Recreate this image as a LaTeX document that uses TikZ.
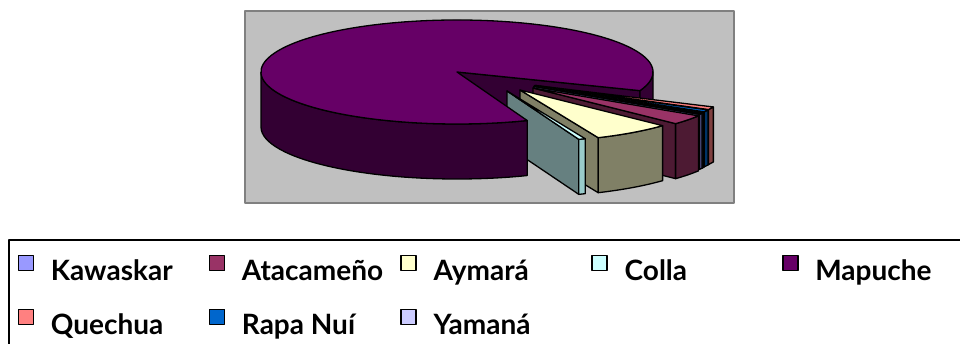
\documentclass[tikz,border=0pt]{standalone}
\usepackage{fontspec}
\setmainfont{Lato}
\usepackage{xcolor}
\usepackage{tikz}
\usetikzlibrary{positioning}

\definecolor{plotgrey}{HTML}{C0C0C0}
\definecolor{plotframe}{HTML}{808080}
\definecolor{mapuchetop}{HTML}{660066}
\definecolor{mapucheside}{HTML}{330033}
\definecolor{aymaratop}{HTML}{FFFFCC}
\definecolor{aymaraside}{HTML}{808066}
\definecolor{collatop}{HTML}{CCFFFF}
\definecolor{collaface}{HTML}{668080}
\definecolor{collaside}{HTML}{99CCCC}
\definecolor{atacamenotop}{HTML}{993366}
\definecolor{atacamenoside}{HTML}{4D1A33}
\definecolor{kawaskartop}{HTML}{9999FF}
\definecolor{kawaskarside}{HTML}{4D4D80}
\definecolor{yamanatop}{HTML}{CCCCFF}
\definecolor{yamanaside}{HTML}{666680}
\definecolor{rapanuitop}{HTML}{0066CC}
\definecolor{rapanuiside}{HTML}{003366}
\definecolor{quechuatop}{HTML}{FF8080}
\definecolor{quechuaside}{HTML}{804040}

% one pulled-out slice: apex x, apex y, start, end, top, cut face, side
\newcommand{\pieslice}[7]{%
    \begin{scope}[shift={(#1,#2)}]
        \filldraw[fill=#6] (0,0) -- (#3:196pt and 52pt) -- ++(0,-55) -- (0,-55) -- cycle;
        \filldraw[fill=#7] (#3:196pt and 52pt)
            arc[start angle=#3, end angle=#4, x radius=196pt, y radius=52pt]
            -- ++(0,-55)
            arc[start angle=#4, end angle=#3, x radius=196pt, y radius=52pt] -- cycle;
        \filldraw[fill=#5] (0,0) -- (#3:196pt and 52pt)
            arc[start angle=#3, end angle=#4, x radius=196pt, y radius=52pt] -- cycle;
    \end{scope}}

\begin{document}
\begin{tikzpicture}[x=1pt, y=1pt, line width=1.3pt, line join=round]
    \tikzstyle{swatch} = [draw=black, line width=1.6pt, minimum size=15pt, inner sep=0pt];
    \tikzstyle{entry} = [inner sep=0pt, font=\fontsize{28}{32}\selectfont\bfseries];
    \clip (0,0) rectangle (960,343);
    \draw[fill=plotgrey, draw=plotframe, line width=2pt] (245,140.3) rectangle (734.3,332.3);

    % Mapuche, the parts behind the pulled-out slices
    \begin{scope}[shift={(457,271)}]
        \filldraw[fill=mapucheside] (0,0) -- (-21:196pt and 52pt) -- ++(0,-55) -- (0,-55) -- cycle;
        \filldraw[fill=mapucheside] (-21:196pt and 52pt)
            arc[start angle=-21, end angle=0, x radius=196pt, y radius=52pt]
            -- ++(0,-55)
            arc[start angle=0, end angle=-21, x radius=196pt, y radius=52pt] -- cycle;
    \end{scope}

    % pulled-out slices, back to front
    \pieslice{535}{257.6}{-27.7}{-24.5}{quechuatop}{quechuaside}{quechuaside}
    \pieslice{534.6}{257.2}{-30.1}{-27.7}{rapanuitop}{rapanuiside}{rapanuiside}
    \pieslice{534.3}{256.8}{-31.0}{-30.1}{yamanatop}{yamanaside}{yamanaside}
    \pieslice{534}{256.5}{-32.4}{-31.0}{kawaskartop}{kawaskarside}{kawaskarside}
    \pieslice{533}{255}{-43.3}{-32.4}{atacamenotop}{atacamenoside}{atacamenoside}
    \pieslice{520}{253}{-66.5}{-43.3}{aymaratop}{aymaraside}{aymaraside}
    \pieslice{507}{252}{-68.5}{-66.5}{collatop}{collaface}{collaside}

    % Mapuche, front side and top
    \begin{scope}[shift={(457,271)}]
        \filldraw[fill=mapucheside] (180:196pt and 52pt)
            arc[start angle=180, end angle=291, x radius=196pt, y radius=52pt]
            -- ++(0,-55)
            arc[start angle=291, end angle=180, x radius=196pt, y radius=52pt] -- cycle;
        \filldraw[fill=mapuchetop] (0,0) -- (-21:196pt and 52pt)
            arc[start angle=-21, end angle=291, x radius=196pt, y radius=52pt] -- cycle;
    \end{scope}

    % legend
    \draw[line width=1.5pt] (9,103) rectangle (980,-20);
    \node[swatch, fill=kawaskartop] (mKawaskar) at (26,80) {};
    \node[swatch, fill=atacamenotop] (mAtacameno) at (217,80) {};
    \node[swatch, fill=aymaratop] (mAymara) at (408.7,80) {};
    \node[swatch, fill=collatop] (mColla) at (599.7,80) {};
    \node[swatch, fill=mapuchetop] (mMapuche) at (790.3,80) {};
    \node[swatch, fill=quechuatop] (mQuechua) at (26,26.2) {};
    \node[swatch, fill=rapanuitop] (mRapanui) at (217,26.2) {};
    \node[swatch, fill=yamanatop] (mYamana) at (408.7,26.2) {};
    \node[entry, below right = 9pt and 16pt of mKawaskar.south east, anchor=base west] (tKawaskar) {Kawaskar};
    \node[entry, below right = 9pt and 16pt of mAtacameno.south east, anchor=base west] (tAtacameno) {Atacameño};
    \node[entry, below right = 9pt and 16pt of mAymara.south east, anchor=base west] (tAymara) {Aymará};
    \node[entry, below right = 9pt and 16pt of mColla.south east, anchor=base west] (tColla) {Colla};
    \node[entry, below right = 9pt and 16pt of mMapuche.south east, anchor=base west] (tMapuche) {Mapuche};
    \node[entry, below right = 9pt and 16pt of mQuechua.south east, anchor=base west] (tQuechua) {Quechua};
    \node[entry, below right = 9pt and 16pt of mRapanui.south east, anchor=base west] (tRapanui) {Rapa Nuí};
    \node[entry, below right = 9pt and 16pt of mYamana.south east, anchor=base west] (tYamana) {Yamaná};
\end{tikzpicture}
\end{document}
